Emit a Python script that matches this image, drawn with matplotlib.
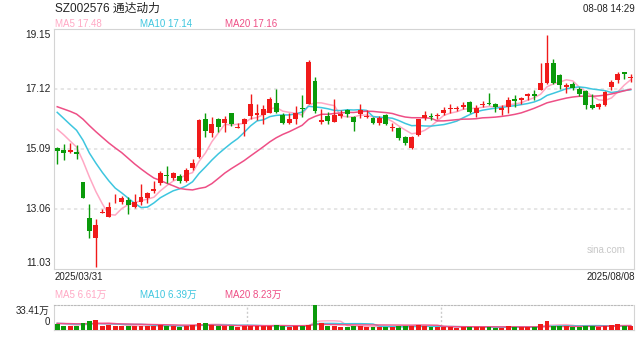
import numpy as np
import matplotlib.pyplot as plt

plt.rcParams['font.family'] = ['Liberation Sans', 'Noto Sans CJK SC', 'DejaVu Sans']

# daily OHLC, 2025/03/31 .. 2025/08/08 (90 trading days)
opens = [15.12, 15.05, 15.00, 14.98, 13.96, 12.76, 12.09, 12.93, 12.80, 13.32,
         13.31, 13.36, 13.12, 13.31, 13.42, 13.67, 13.93, 14.22, 14.10, 14.18,
         14.02, 14.46, 14.83, 16.09, 15.64, 16.09, 15.98, 16.30, 15.81, 15.93,
         16.21, 16.24, 16.24, 16.32, 16.64, 16.24, 15.98, 16.10, 16.47, 16.61,
         17.40, 16.00, 16.21, 16.01, 16.20, 16.41, 16.18, 16.27, 16.16, 16.15,
         15.98, 16.24, 15.81, 15.79, 15.49, 15.11, 15.56, 16.13, 16.20, 16.20,
         16.30, 16.45, 16.43, 16.52, 16.69, 16.32, 16.58, 16.63, 16.61, 16.40,
         16.50, 16.78, 16.75, 16.88, 16.95, 17.09, 17.33, 18.01, 17.59, 17.18,
         17.29, 17.12, 17.05, 16.58, 16.50, 16.58, 17.18, 17.42, 17.71, 17.50]
highs = [15.17, 15.25, 15.30, 15.22, 13.97, 13.23, 12.72, 13.05, 13.31, 13.57,
         13.50, 13.48, 13.56, 13.91, 13.65, 14.01, 14.36, 14.51, 14.32, 14.24,
         14.44, 14.74, 16.09, 16.32, 16.18, 16.13, 16.22, 16.32, 15.98, 16.13,
         16.95, 16.61, 16.58, 16.84, 17.12, 16.30, 16.30, 16.54, 16.92, 18.10,
         17.54, 16.43, 16.35, 16.78, 16.41, 16.45, 16.21, 16.61, 16.41, 16.18,
         16.21, 16.27, 15.96, 15.83, 15.52, 15.53, 16.12, 16.39, 16.30, 16.30,
         16.50, 16.61, 16.54, 16.69, 16.72, 16.58, 16.72, 16.97, 16.63, 16.58,
         16.86, 16.92, 16.86, 16.99, 17.09, 17.99, 18.95, 18.12, 17.63, 17.33,
         17.37, 17.19, 17.09, 16.95, 16.66, 17.06, 17.42, 17.71, 17.71, 17.63]
lows = [14.58, 14.72, 14.97, 14.74, 13.43, 12.09, 11.11, 12.91, 12.80, 13.27,
        13.22, 12.89, 13.08, 13.20, 13.25, 13.61, 13.87, 13.93, 14.04, 13.93,
        13.97, 14.38, 14.80, 15.49, 15.49, 15.68, 15.68, 15.87, 15.79, 15.52,
        16.09, 16.07, 15.94, 16.30, 16.30, 15.94, 15.94, 15.94, 16.18, 16.61,
        16.30, 15.94, 15.94, 16.01, 16.13, 16.16, 15.71, 16.13, 16.13, 15.94,
        15.91, 15.91, 15.71, 15.39, 15.23, 15.08, 15.52, 16.07, 16.07, 16.10,
        16.24, 16.32, 16.37, 16.43, 16.30, 16.18, 16.50, 16.58, 16.35, 16.24,
        16.32, 16.50, 16.61, 16.75, 16.75, 17.09, 17.29, 17.29, 17.13, 16.97,
        17.10, 16.89, 16.43, 16.43, 16.46, 16.54, 17.09, 17.31, 17.46, 17.36]
closes = [15.03, 14.96, 15.04, 14.93, 13.44, 12.33, 12.51, 12.97, 13.12, 13.34,
          13.42, 13.19, 13.29, 13.48, 13.59, 13.74, 14.27, 14.17, 14.27, 14.02,
          14.38, 14.61, 16.07, 15.70, 15.93, 15.84, 16.10, 15.94, 15.83, 16.09,
          16.61, 16.30, 16.44, 16.78, 16.35, 15.98, 16.10, 16.30, 16.45, 18.04,
          16.39, 16.07, 16.05, 16.24, 16.27, 16.27, 16.01, 16.41, 16.21, 15.98,
          16.15, 15.94, 15.83, 15.45, 15.30, 15.51, 16.09, 16.24, 16.16, 16.24,
          16.41, 16.47, 16.47, 16.58, 16.35, 16.49, 16.61, 16.61, 16.50, 16.47,
          16.75, 16.72, 16.83, 16.95, 16.88, 17.33, 17.99, 17.33, 17.25, 17.26,
          17.14, 16.95, 16.58, 16.49, 16.61, 17.03, 17.37, 17.63, 17.63, 17.52]
# volume, unit: 万手
vols = [8, 6, 5, 5, 10, 12, 14, 6, 7, 5,
        5, 6, 5, 6, 5, 5, 7, 6, 5, 4,
        6, 7, 9, 9, 7, 6, 6, 6, 4, 5,
        5, 5, 5, 6, 7, 5, 4, 5, 6, 7,
        33.41, 9, 6, 6, 4, 4, 5, 5, 4, 4,
        4, 4, 4, 5, 5, 5, 7, 5, 4, 4,
        4, 4, 3, 4, 4, 4, 4, 4, 3, 3,
        5, 4, 4, 4, 4, 8, 12, 5, 6, 5,
        4, 4, 6, 5, 4, 6, 7, 8, 6, 5]
# closes / volumes before 03/31 (only feed the moving averages)
pre_closes = [16.5, 16.6, 16.8, 16.9, 16.7, 16.6, 16.8, 16.9, 16.7, 16.6,
              17.0, 17.1, 16.9, 16.8, 16.7, 15.9, 16.1, 15.95, 15.82]
pre_vols = [9, 8, 10, 9, 8, 9, 10, 8, 9, 8, 9, 10, 9, 8, 9, 10, 9, 8, 9]

ma_labels = ['MA5 17.48', 'MA10 17.14', 'MA20 17.16']
vol_ma_labels = ['MA5 6.61万', 'MA10 6.39万', 'MA20 8.23万']
price_ticks = [11.03, 13.06, 15.09, 17.12, 19.15]
vol_max = 33.41

RED = '#f01a1a'
GREEN = '#0a9a0a'
MA_COLORS = ['#ffa8c4', '#3ec6df', '#ee4f86']
FRAME = '#d4d4d4'

n = len(closes)
x = np.arange(n)
o = np.array(opens); h = np.array(highs); l = np.array(lows); c = np.array(closes)
up = c >= o
colors = np.where(up, RED, GREEN)

all_c = np.array(pre_closes + closes)
all_v = np.array(pre_vols + vols)
def ma(a, k):
    return np.convolve(a, np.ones(k) / k, mode='valid')[-n:]

fig = plt.figure(figsize=(6.4, 3.6), dpi=100)
ax = fig.add_axes([54 / 640, 1 - 269 / 360, 580 / 640, 240 / 360])
axv = fig.add_axes([54 / 640, 1 - 330 / 360, 580 / 640, 25 / 360])

# candles
ax.vlines(x, l, h, colors=colors, linewidth=1, zorder=3)
body_lo = np.minimum(o, c)
body_h = np.maximum(np.abs(c - o), 0.02)
ax.bar(x, body_h, 0.76, bottom=body_lo, color=colors, linewidth=0, zorder=4)
for k, col in zip([5, 10, 20], MA_COLORS):
    ax.plot(x, ma(all_c, k), color=col, linewidth=1.1, zorder=2)

ax.set_xlim(-0.5, n - 0.5)
ax.set_ylim(price_ticks[0], price_ticks[-1])
ax.set_xticks([])
ax.set_yticks([])
for t in price_ticks[1:-1]:
    ax.axhline(t, color='#e2e2e2', linestyle=(0, (2, 2)), linewidth=1.2, zorder=0)
for s in ax.spines.values():
    s.set_color(FRAME)
for t in price_ticks:
    va = 'top' if t == price_ticks[-1] else ('bottom' if t == price_ticks[0] else 'center')
    off = -0.05 if t == price_ticks[-1] else (0.05 if t == price_ticks[0] else 0)
    ax.text(-0.006, t + off, f'{t:.2f}', transform=ax.get_yaxis_transform(),
            ha='right', va=va, fontsize=7.3, color='#222222')
ax.text(0.985, 0.08, 'sina.com', transform=ax.transAxes, ha='right', va='center',
        fontsize=7, color='#c8c8c8')

# volume
axv.bar(x, vols, 0.76, color=colors, linewidth=0, zorder=3)
for k, col in zip([5, 10, 20], MA_COLORS):
    axv.plot(x, ma(all_v, k), color=col, linewidth=1, zorder=2)
axv.set_xlim(-0.5, n - 0.5)
axv.set_ylim(0, vol_max)
axv.set_xticks([])
axv.set_yticks([])
for s in axv.spines.values():
    s.set_color(FRAME)
axv.spines['top'].set_linestyle((0, (1.5, 1.5)))
axv.spines['top'].set_color('#bbbbbb')
for xv in [29.5, 59.5]:
    axv.axvline(xv, color='#cccccc', linestyle=(0, (1.5, 1.5)), linewidth=1, zorder=0)
fig.text(50 / 640, 1 - 311 / 360, f'{vol_max}万', ha='right', va='center',
         fontsize=7, color='#222222')
fig.text(50 / 640, 1 - 322 / 360, '0', ha='right', va='center',
         fontsize=7, color='#222222')

# header texts
fig.text(55 / 640, 1 - 9 / 360, 'SZ002576 通达动力', ha='left', va='center', fontsize=8.5, color='#222222')
fig.text(635 / 640, 1 - 9 / 360, '08-08 14:29', ha='right', va='center', fontsize=7, color='#222222')
for xp, lab, col in zip([55, 140, 225], ma_labels, MA_COLORS):
    fig.text(xp / 640, 1 - 24 / 360, lab, ha='left', va='center', fontsize=7, color=col)
for xp, lab, col in zip([55, 140, 225], vol_ma_labels, MA_COLORS):
    fig.text(xp / 640, 1 - 295 / 360, lab, ha='left', va='center', fontsize=7, color=col)
fig.text(55 / 640, 1 - 277 / 360, '2025/03/31', ha='left', va='center', fontsize=7, color='#222222')
fig.text(635 / 640, 1 - 277 / 360, '2025/08/08', ha='right', va='center', fontsize=7, color='#222222')

fig.savefig('out.png', dpi=100)
